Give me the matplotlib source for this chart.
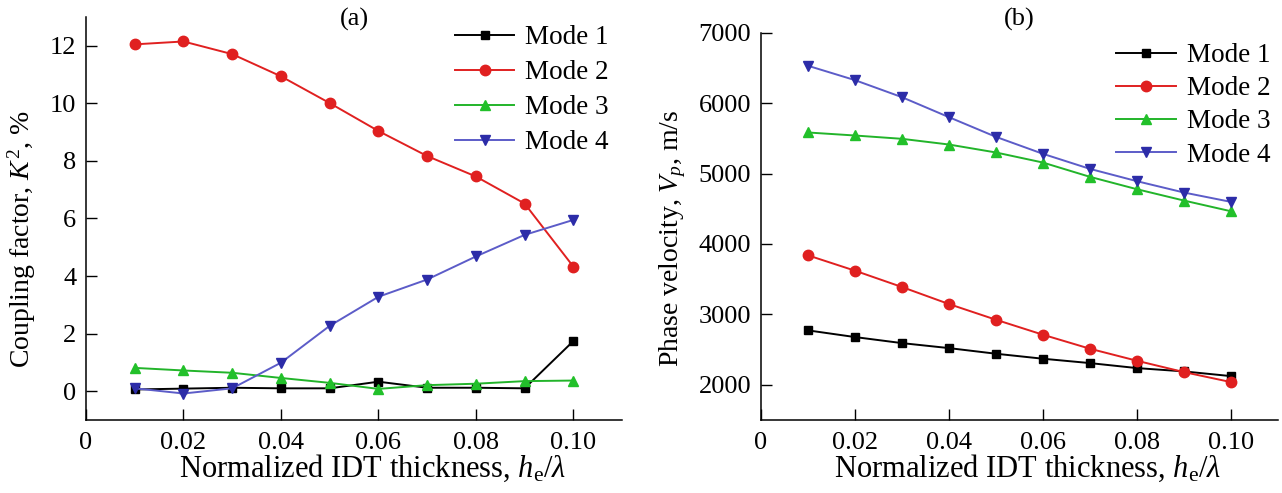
import numpy as np
import matplotlib
matplotlib.use("Agg")
import matplotlib.pyplot as plt

plt.rcParams['font.family'] = ['Liberation Serif', 'DejaVu Serif']
plt.rcParams['mathtext.fontset'] = 'custom'
plt.rcParams['mathtext.rm'] = 'Liberation Serif'
plt.rcParams['mathtext.it'] = 'Liberation Serif:italic'
plt.rcParams['font.size'] = 19

# thickness h_e/lambda
thickness = [0.01, 0.02, 0.03, 0.04, 0.05, 0.06, 0.07, 0.08, 0.09, 0.10]
mode_labels = ["Mode 1", "Mode 2", "Mode 3", "Mode 4"]

# (a) coupling factor K^2, %
k2_mode1 = [0.06, 0.09, 0.12, 0.10, 0.10, 0.33, 0.12, 0.12, 0.10, 1.74]
k2_mode2 = [12.05, 12.15, 11.71, 10.94, 10.01, 9.04, 8.17, 7.46, 6.52, 4.33]
k2_mode3 = [0.81, 0.72, 0.64, 0.46, 0.29, 0.08, 0.21, 0.26, 0.35, 0.37]
k2_mode4 = [0.10, -0.08, 0.10, 0.99, 2.27, 3.28, 3.88, 4.68, 5.43, 5.95]

# (b) phase velocity Vp, m/s
vp_mode1 = [2773, 2678, 2592, 2521, 2441, 2370, 2308, 2237, 2190, 2123]
vp_mode2 = [3839, 3621, 3389, 3147, 2924, 2711, 2512, 2341, 2180, 2038]
vp_mode3 = [5583, 5540, 5493, 5412, 5299, 5156, 4953, 4777, 4616, 4464]
vp_mode4 = [6531, 6327, 6085, 5801, 5521, 5280, 5066, 4891, 4730, 4597]

# line color, marker face color, marker, marker size
styles = [
    ("black", "black", "s", 6),
    ("#e02020", "#e02020", "o", 7.5),
    ("#22b42a", "#22c02a", "^", 7),
    ("#5c5cc8", "#2c2ca8", "v", 7),
]

fig = plt.figure(figsize=(12.82, 4.93), dpi=100)
ax_a = fig.add_axes([0.0671, 0.1481, 0.4181, 0.8174])
ax_b = fig.add_axes([0.5934, 0.1481, 0.4035, 0.7856])


def draw_panel(ax, series, ylim, yticks, ylabel, tag, tag_y, xlab_pos, ylab_pos,
               leg_anchor, leg_spacing):
    for vals, label, (lc, mc, mk, ms) in zip(series, mode_labels, styles):
        ax.plot(thickness, vals, color=lc, linewidth=1.4, marker=mk, markersize=ms,
                markerfacecolor=mc, markeredgecolor=mc, label=label)
    ax.set_xlim(0, 0.11)
    ax.set_ylim(*ylim)
    ax.set_xticks([0, 0.02, 0.04, 0.06, 0.08, 0.10])
    ax.set_xticklabels(["0", "0.02", "0.04", "0.06", "0.08", "0.10"])
    ax.set_yticks(yticks)
    ax.tick_params(direction='in', length=8, width=1, labelsize=19)
    ax.tick_params(axis='x', pad=9)
    ax.tick_params(axis='y', pad=7)
    for side in ("top", "right"):
        ax.spines[side].set_visible(False)
    for side in ("left", "bottom"):
        ax.spines[side].set_linewidth(1.1)
    ax.set_xlabel(r"Normalized IDT thickness, $h_{\mathrm{e}}/\lambda$", fontsize=22, va='center')
    ax.xaxis.set_label_coords(*xlab_pos)
    ax.set_ylabel(ylabel, fontsize=20, va='center')
    ax.yaxis.set_label_coords(*ylab_pos)
    ax.text(0.5, tag_y, tag, transform=ax.transAxes, ha='center', va='center', fontsize=19)
    ax.legend(loc='upper left', bbox_to_anchor=leg_anchor, frameon=False, fontsize=19.5,
              handlelength=2.2, handletextpad=0.4, labelspacing=leg_spacing,
              borderaxespad=0, borderpad=0)


draw_panel(ax_a, [k2_mode1, k2_mode2, k2_mode3, k2_mode4], (-1, 13), np.arange(0, 13, 2),
           r"Coupling factor, $K^2$, %", "(a)", 0.995, (0.535, -0.121), (-0.119, 0.449),
           (0.688, 0.98), 0.37)
draw_panel(ax_b, [vp_mode1, vp_mode2, vp_mode3, vp_mode4], (1500, 7000), np.arange(2000, 7001, 1000),
           r"Phase velocity, $V_p$, m/s", "(b)", 1.035, (0.515, -0.126), (-0.171, 0.47),
           (0.687, 0.973), 0.30)

fig.savefig("out.png", dpi=100)
